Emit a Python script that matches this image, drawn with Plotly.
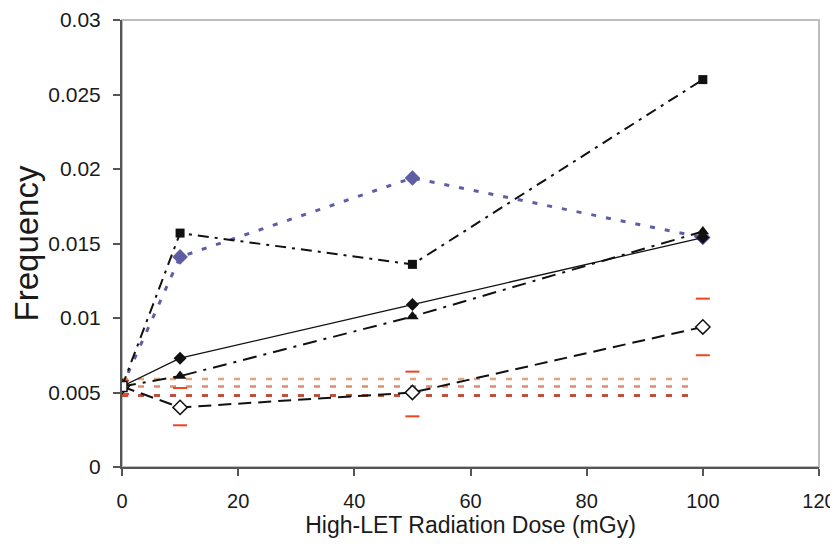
import plotly.graph_objects as go

# ---------------- data ----------------
dose = [0, 10, 50, 100]

series_sq = [0.0054, 0.0157, 0.0136, 0.0260]       # filled square, dash-dot
series_blue = [0.0054, 0.0141, 0.0194, 0.0154]     # blue diamond, dotted
series_dia = [0.0054, 0.0073, 0.0109, 0.0154]      # filled diamond, solid
series_tri = [0.0054, 0.0061, 0.0101, 0.0158]      # filled triangle, long dash-dot
series_open = [0.0054, 0.0040, 0.0050, 0.0094]     # open diamond, long dash

err_upper = [0.0058, 0.0053, 0.0064, 0.0113]
err_lower = [0.0049, 0.0028, 0.0034, 0.0075]

control_x = [0]
control_y = [0.0054]

band_x = [0, 98]
band_top = [0.0059, 0.0059]
band_mid = [0.0054, 0.0054]
band_low = [0.0048, 0.0048]

x_ticks = [0, 20, 40, 60, 80, 100, 120]
y_ticks = [0, 0.005, 0.01, 0.015, 0.02, 0.025, 0.03]
y_tick_text = ["0", "0.005", "0.01", "0.015", "0.02", "0.025", "0.03"]

FONT = "Liberation Sans, Arial, sans-serif"

fig = go.Figure()

# control mean / sd dotted lines
for yy, col, w in [(band_top, "#DDA67E", 2.5), (band_mid, "#D98E6E", 2.5), (band_low, "#B9533F", 3)]:
    fig.add_trace(go.Scatter(x=band_x, y=yy, mode="lines",
                             line=dict(color=col, width=w, dash="6px,10px"),
                             hoverinfo="skip", showlegend=False))

# red error caps
fig.add_trace(go.Scatter(x=dose, y=err_upper, mode="markers",
                         marker=dict(symbol="line-ew", size=10, line=dict(color="#EE4422", width=2)),
                         showlegend=False))
fig.add_trace(go.Scatter(x=dose, y=err_lower, mode="markers",
                         marker=dict(symbol="line-ew", size=10, line=dict(color="#EE4422", width=2)),
                         showlegend=False))

fig.add_trace(go.Scatter(x=dose, y=series_blue, mode="lines+markers",
                         line=dict(color="#5E5EA6", width=3, dash="5px,10px"),
                         marker=dict(symbol="diamond", size=12, color="#5E5EA6"),
                         showlegend=False))
fig.add_trace(go.Scatter(x=dose, y=series_sq, mode="lines+markers",
                         line=dict(color="#111111", width=2, dash="11px,6px,3px,6px"),
                         marker=dict(symbol="square", size=9, color="#111111"),
                         showlegend=False))
fig.add_trace(go.Scatter(x=dose, y=series_tri, mode="lines+markers",
                         line=dict(color="#111111", width=2, dash="14px,7px,3px,7px"),
                         marker=dict(symbol="triangle-up", size=11, color="#111111"),
                         showlegend=False))
fig.add_trace(go.Scatter(x=dose, y=series_dia, mode="lines+markers",
                         line=dict(color="#111111", width=1.3),
                         marker=dict(symbol="diamond", size=10, color="#111111"),
                         showlegend=False))
fig.add_trace(go.Scatter(x=dose, y=series_open, mode="lines+markers",
                         line=dict(color="#111111", width=2, dash="13px,7px"),
                         marker=dict(symbol="diamond", size=11, color="white",
                                     line=dict(color="#111111", width=1.5)),
                         showlegend=False))
fig.add_trace(go.Scatter(x=control_x, y=control_y, mode="markers",
                         marker=dict(symbol="square", size=10, color="white",
                                     line=dict(color="#111111", width=1.5)),
                         showlegend=False))

fig.update_layout(
    width=830, height=534,
    margin=dict(l=114, r=19, t=12, b=75),
    paper_bgcolor="white", plot_bgcolor="white",
    font=dict(family=FONT, color="#1A1A1A"),
    shapes=[dict(type="rect", xref="paper", yref="paper", x0=0, x1=1, y0=0, y1=1,
                 line=dict(color="#BDBDBD", width=2), layer="below")],
)

fig.update_xaxes(
    range=[0, 120], tickvals=x_ticks, showgrid=False, zeroline=False, automargin=False,
    showline=True, linecolor="#555555", linewidth=2,
    ticks="outside", ticklen=7, tickcolor="#555555", tickwidth=1.5,
    tickfont=dict(size=20, family=FONT, color="#1A1A1A"),
    ticklabelstandoff=8, ticklabeloverflow="allow",
    title=dict(text="High-LET Radiation Dose (mGy)", font=dict(size=23, family=FONT, color="#1A1A1A"),
               standoff=5),
)
fig.update_yaxes(
    range=[0, 0.03], tickvals=y_ticks, ticktext=y_tick_text, showgrid=False, zeroline=False,
    automargin=False,
    showline=True, linecolor="#555555", linewidth=2,
    ticks="outside", ticklen=7, tickcolor="#555555", tickwidth=1.5,
    tickfont=dict(size=21, family=FONT, color="#1A1A1A"),
    ticklabelstandoff=8,
    title=dict(text="Frequency", font=dict(size=33, family=FONT, color="#1A1A1A"), standoff=8),
)

fig.write_html("out.html")
